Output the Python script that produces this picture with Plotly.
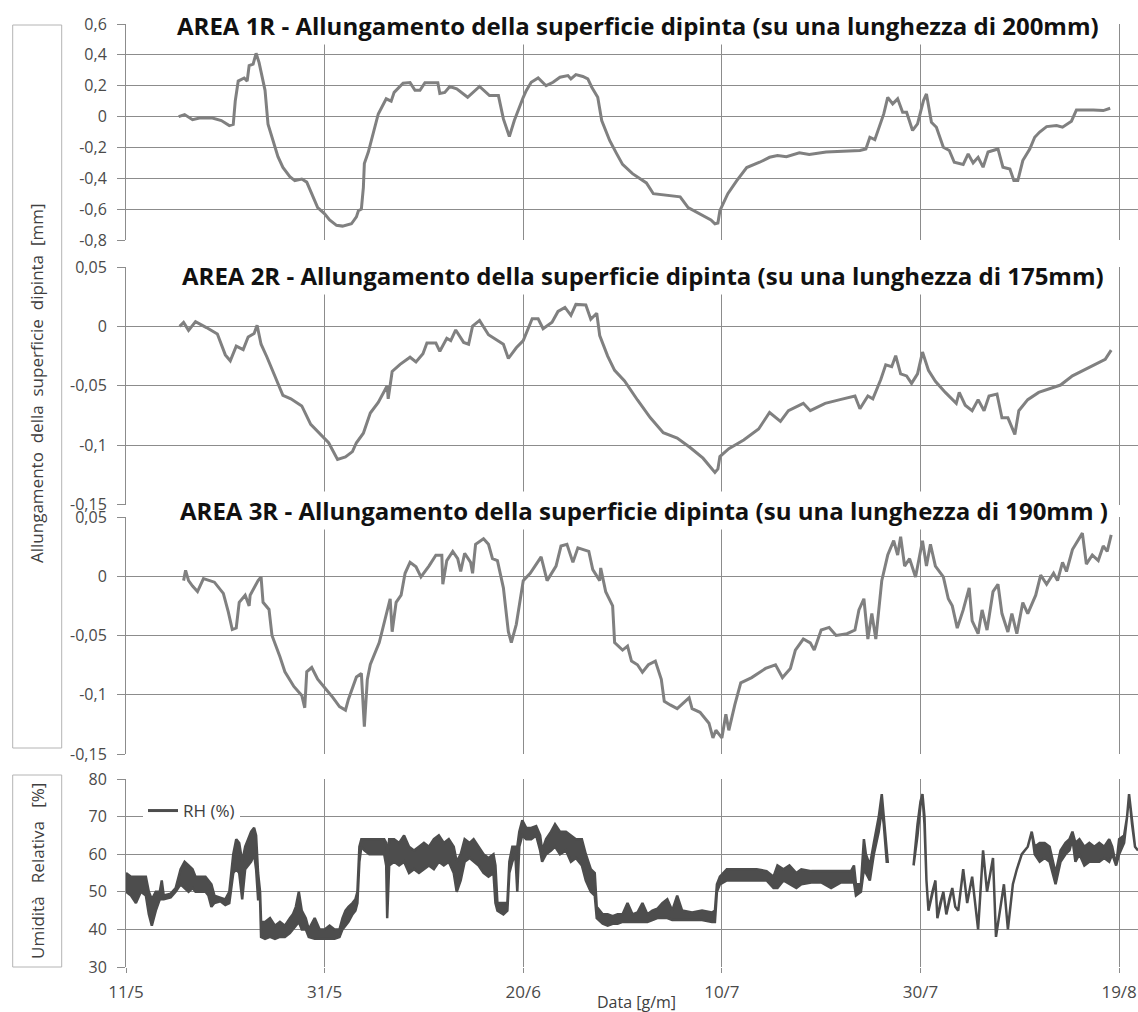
import plotly.graph_objects as go
from plotly.subplots import make_subplots

# ---- time axis: days elapsed since 11/5 ----
tick_days = [0, 20, 40, 60, 80, 100]
tick_labels = ["11/5", "31/5", "20/6", "10/7", "30/7", "19/8"]

# ---- AREA 1R: elongation [mm] ----
a1_day = [5.3, 5.9, 6.7, 7.4, 8.7, 9.6, 10.4, 10.8, 11.0, 11.3, 11.9, 12.2, 12.4, 12.8, 13.1,
          13.4, 13.6, 14.0, 14.3, 14.8, 15.3, 15.8, 16.5, 17.0, 17.7, 18.2, 18.7, 19.3, 20.0,
          20.5, 21.2, 21.8, 22.7, 23.2, 23.4, 23.7, 23.9, 24.0, 24.4, 24.9, 25.4, 26.2, 26.7,
          27.0, 27.9, 28.6, 29.1, 29.6, 30.1, 31.4, 31.6, 32.1, 32.6, 33.3, 34.4, 35.6, 36.6,
          37.5, 38.0, 38.6, 39.1, 40.0, 40.3, 40.8, 41.5, 42.3, 43.0, 43.7, 44.5, 44.8, 45.3,
          46.0, 46.5, 46.9, 47.5, 47.9, 48.7, 49.4, 50.0, 51.0, 52.4, 53.1, 54.4, 55.8, 56.6,
          57.8, 58.9, 59.3, 59.6, 59.8, 60.6, 61.5, 62.5, 63.8, 64.8, 65.6, 66.5, 67.8, 68.8,
          70.5, 72.2, 73.9, 74.5, 74.9, 75.4, 75.9, 76.3, 76.7, 77.2, 77.7, 78.2, 78.6, 79.2,
          79.7, 80.3, 80.6, 81.1, 81.6, 82.3, 82.9, 83.4, 84.3, 84.8, 85.3, 85.8, 86.3, 86.8,
          87.8, 88.3, 89.0, 89.4, 89.8, 90.3, 91.0, 91.5, 92.0, 92.7, 93.7, 94.3, 95.2, 95.7,
          97.4, 98.4, 99.1]
a1_val = [0.0, 0.013, -0.02, -0.01, -0.01, -0.026, -0.058, -0.05, 0.10, 0.23, 0.25, 0.23, 0.33,
          0.34, 0.41, 0.35, 0.29, 0.17, -0.05, -0.155, -0.26, -0.33, -0.39, -0.415, -0.405,
          -0.425, -0.50, -0.59, -0.63, -0.67, -0.705, -0.71, -0.695, -0.65, -0.61, -0.60, -0.46,
          -0.305, -0.23, -0.11, 0.017, 0.115, 0.10, 0.157, 0.216, 0.22, 0.17, 0.17, 0.22, 0.22,
          0.15, 0.157, 0.195, 0.18, 0.125, 0.195, 0.136, 0.136, -0.015, -0.13, -0.026, 0.125,
          0.168, 0.222, 0.25, 0.20, 0.222, 0.255, 0.266, 0.244, 0.272, 0.26, 0.244, 0.19, 0.125,
          -0.026, -0.155, -0.24, -0.31, -0.37, -0.43, -0.50, -0.51, -0.52, -0.59, -0.63, -0.67,
          -0.695, -0.69, -0.61, -0.50, -0.415, -0.33, -0.296, -0.264, -0.253, -0.26, -0.235,
          -0.246, -0.23, -0.225, -0.22, -0.21, -0.134, -0.15, -0.058, 0.017, 0.125, 0.082, 0.115,
          0.028, 0.028, -0.09, -0.047, 0.104, 0.147, -0.037, -0.069, -0.199, -0.22, -0.296,
          -0.31, -0.242, -0.30, -0.264, -0.328, -0.23, -0.21, -0.328, -0.34, -0.415, -0.415,
          -0.285, -0.21, -0.134, -0.10, -0.065, -0.058, -0.069, -0.03, 0.043, 0.043, 0.039,
          0.054]

# ---- AREA 2R: elongation [mm] ----
a2_day = [5.4, 5.8, 6.3, 7.0, 8.1, 9.2, 10.0, 10.5, 11.1, 11.8, 12.3, 12.9, 13.2, 13.6, 14.2,
          14.9, 15.8, 16.6, 17.7, 18.6, 19.5, 20.4, 21.3, 22.1, 22.8, 23.2, 23.9, 24.6, 25.4,
          26.3, 26.4, 26.8, 27.6, 28.6, 29.2, 29.9, 30.3, 31.2, 31.6, 32.3, 32.7, 33.2, 34.0,
          34.5, 34.9, 35.6, 36.5, 37.4, 38.0, 38.5, 39.3, 40.0, 40.9, 41.5, 42.0, 42.9, 43.5,
          44.2, 44.8, 45.3, 46.3, 46.8, 47.4, 47.7, 48.5, 49.2, 50.2, 51.5, 52.8, 54.1, 55.5,
          56.8, 58.1, 59.3, 59.6, 59.8, 60.7, 62.2, 63.7, 64.8, 65.9, 66.7, 68.2, 68.9, 70.4,
          71.9, 73.4, 73.9, 74.7, 75.2, 76.0, 76.5, 77.1, 77.5, 78.0, 78.6, 79.1, 79.7, 80.2,
          80.8, 81.5, 82.5, 83.6, 83.9, 84.5, 85.2, 85.8, 86.4, 86.9, 87.7, 88.2, 88.8, 89.5,
          89.9, 90.8, 91.9, 93.0, 94.1, 95.3, 96.4, 97.5, 98.6, 99.2]
a2_val = [0.0, 0.0034, -0.0034, 0.004, -0.001, -0.0064, -0.024, -0.029, -0.0166, -0.0196,
          -0.009, -0.006, 0.001, -0.015, -0.026, -0.040, -0.058, -0.061, -0.067, -0.0825,
          -0.090, -0.098, -0.112, -0.110, -0.1055, -0.098, -0.090, -0.073, -0.064, -0.050,
          -0.061, -0.038, -0.032, -0.026, -0.030, -0.023, -0.014, -0.014, -0.021, -0.010,
          -0.012, -0.003, -0.0135, -0.015, 0.0003, 0.005, -0.007, -0.012, -0.015, -0.027,
          -0.018, -0.012, 0.0064, 0.0064, -0.002, 0.0034, 0.0126, 0.016, 0.0093, 0.0185, 0.018,
          0.006, 0.011, -0.0077, -0.025, -0.037, -0.046, -0.062, -0.077, -0.0895, -0.094,
          -0.102, -0.111, -0.123, -0.120, -0.1096, -0.103, -0.0957, -0.0864, -0.0725, -0.080,
          -0.071, -0.0648, -0.071, -0.0648, -0.0617, -0.0586, -0.0694, -0.0586, -0.061,
          -0.0448, -0.0324, -0.034, -0.0247, -0.040, -0.0417, -0.048, -0.040, -0.0216, -0.037,
          -0.0463, -0.0556, -0.0648, -0.0556, -0.0664, -0.071, -0.0617, -0.071, -0.0586,
          -0.057, -0.077, -0.077, -0.091, -0.071, -0.0617, -0.0556, -0.0525, -0.0494, -0.0417,
          -0.037, -0.0324, -0.0278, -0.020]

# ---- AREA 3R: elongation [mm] ----
a3_day = [5.8, 6.0, 6.3, 6.7, 7.2, 7.8, 8.9, 9.8, 10.3, 10.7, 11.1, 11.4, 12.0, 12.4, 12.5,
          13.3, 13.6, 13.8, 14.4, 14.7, 15.5, 16.0, 16.9, 17.7, 18.0, 18.2, 18.7, 19.3, 20.2,
          20.8, 21.5, 22.1, 22.4, 23.2, 23.7, 24.0, 24.3, 24.6, 25.5, 26.1, 26.6, 26.8, 27.2,
          27.7, 28.1, 28.6, 29.2, 29.7, 30.5, 31.2, 31.8, 31.9, 32.3, 32.9, 33.4, 33.7, 34.1,
          34.7, 34.9, 35.2, 36.0, 36.5, 36.9, 37.4, 38.0, 38.5, 38.8, 39.3, 40.0, 40.7, 41.8,
          42.4, 43.3, 43.8, 44.4, 45.0, 45.5, 46.6, 47.0, 47.7, 47.8, 48.3, 49.0, 49.2, 50.0,
          50.5, 50.9, 51.5, 52.0, 52.6, 53.3, 53.9, 54.2, 54.8, 55.5, 56.3, 56.7, 57.0, 57.8,
          58.7, 59.1, 59.4, 60.0, 60.4, 60.7, 61.3, 61.9, 63.0, 64.4, 65.4, 66.1, 66.9, 67.4,
          68.2, 68.9, 69.3, 70.0, 70.8, 71.5, 72.6, 73.4, 73.8, 74.3, 74.7, 75.1, 75.5, 76.1,
          76.7, 77.3, 77.7, 78.0, 78.4, 78.9, 79.5, 79.9, 80.2, 80.6, 81.0, 81.5, 82.3, 82.8,
          83.2, 83.7, 84.3, 84.9, 85.2, 85.8, 86.2, 86.7, 87.3, 87.8, 88.2, 88.8, 89.2, 89.7,
          90.3, 90.8, 91.6, 92.1, 92.7, 93.4, 93.8, 94.3, 94.7, 95.3, 96.0, 96.3, 96.7, 97.3,
          97.9, 98.4, 98.8, 99.2]
a3_val = [-0.0037, 0.005, -0.0037, -0.0083, -0.0129, -0.002, -0.005, -0.0145, -0.030, -0.045,
          -0.0437, -0.022, -0.016, -0.025, -0.016, -0.0037, -0.0006, -0.022, -0.028, -0.050,
          -0.068, -0.0806, -0.093, -0.1006, -0.111, -0.0806, -0.077, -0.0868, -0.096, -0.102,
          -0.110, -0.113, -0.1037, -0.085, -0.082, -0.127, -0.087, -0.0745, -0.056, -0.0345,
          -0.019, -0.0468, -0.022, -0.016, 0.0025, 0.0117, 0.008, -0.0006, 0.0086, 0.0178,
          0.0178, -0.0068, 0.0132, 0.021, 0.0148, 0.004, 0.0194, 0.0117, 0.0025, 0.027, 0.0317,
          0.027, 0.0148, 0.0132, -0.0098, -0.0468, -0.056, -0.0406, -0.0037, 0.0025, 0.0163,
          -0.0037, 0.0086, 0.0255, 0.027, 0.0117, 0.024, 0.021, 0.0056, -0.0037, 0.007, -0.013,
          -0.025, -0.056, -0.0623, -0.059, -0.0716, -0.0747, -0.081, -0.0747, -0.0716, -0.087,
          -0.1056, -0.1086, -0.1117, -0.1056, -0.1025, -0.1117, -0.1148, -0.124, -0.1364,
          -0.130, -0.1364, -0.1164, -0.130, -0.1086, -0.090, -0.0855, -0.0778, -0.0747,
          -0.0855, -0.0778, -0.0623, -0.053, -0.0562, -0.0623, -0.0454, -0.0432, -0.050,
          -0.0485, -0.0454, -0.0284, -0.019, -0.053, -0.0315, -0.053, -0.0037, 0.0179, 0.030,
          0.0179, 0.0333, 0.0086, 0.0148, -0.0006, 0.0164, 0.030, 0.0086, 0.027, 0.0086,
          -0.0006, -0.019, -0.025, -0.0438, -0.0284, -0.0099, -0.0377, -0.0485, -0.0284,
          -0.0454, -0.013, -0.0068, -0.0315, -0.047, -0.0315, -0.0485, -0.0222, -0.0315,
          -0.016, 0.0009, -0.0068, 0.0025, -0.0037, 0.0117, 0.004, 0.0225, 0.0318, 0.0364,
          0.0102, 0.0179, 0.0133, 0.0256, 0.021, 0.0349]

# ---- Relative humidity RH (%): low / high envelope of the readings ----
rh_day = [0.0, 0.5, 1.0, 1.5, 2.0, 2.3, 2.6, 3.0, 3.4, 3.6, 3.8, 4.5, 5.0, 5.5, 5.9, 6.3, 6.7,
          7.0, 7.5, 8.0, 8.3, 8.6, 8.9, 9.5, 10.0, 10.4, 10.8, 11.1, 11.4, 11.7, 12.0, 12.3,
          12.6, 12.9, 13.1, 13.3, 13.5, 13.6, 14.0, 14.5, 15.0, 15.5, 16.0, 16.5, 16.8, 17.1,
          17.4, 17.7, 18.1, 18.4, 19.0, 19.5, 20.0, 20.5, 21.0, 21.5, 21.8, 22.1, 22.4, 22.8,
          23.1, 23.3, 23.5, 23.7, 24.0, 24.5, 25.0, 25.5, 26.0, 26.2, 26.3, 26.5, 27.0, 27.5,
          28.0, 28.5, 29.0, 29.5, 30.0, 30.5, 31.0, 31.5, 32.0, 32.5, 33.0, 33.3, 33.7, 34.1,
          34.6, 35.0, 35.5, 36.0, 36.5, 37.0, 37.2, 37.4, 38.0, 38.4, 38.6, 38.9, 39.2, 39.4,
          39.6, 39.9, 40.3, 40.8, 41.3, 41.7, 41.9, 42.3, 42.8, 43.2, 43.7, 44.3, 44.8, 45.3,
          45.9, 46.3, 46.8, 47.2, 47.4, 48.0, 48.5, 49.0, 49.5, 50.0, 50.5, 51.0, 51.5, 52.0,
          52.5, 53.0, 53.5, 54.0, 54.5, 55.0, 55.5, 56.0, 57.0, 58.0, 59.0, 59.3, 59.5, 59.8,
          60.5, 61.5, 62.5, 63.5, 64.5, 65.2, 65.6, 66.2, 66.8, 67.5, 68.0, 69.0, 70.0, 71.0,
          72.0, 73.0, 73.3, 73.5, 74.0, 74.3, 74.5, 74.9, 75.3, 75.8, 76.1, 76.3, 76.6, 76.7,
          None,
          79.3, 79.7, 80.0, 80.2, 80.4, 80.6, 80.8, 81.2, 81.5, 81.7, 82.0, 82.3, 82.6, 82.9,
          83.2, 83.5, 83.8, 84.3, 84.7, 85.2, 85.8, 86.3, 86.7, 87.3, 87.6, 88.0, 88.4, 88.8,
          89.3, 89.7, 90.2, 90.8, 91.2, 91.5, 92.0, 92.5, 93.0, 93.6, 94.1, 94.6, 95.0, 95.3,
          95.6, 96.0, 96.5, 97.0, 97.5, 98.0, 98.5, 99.0, 99.3, 99.7, 100.0, 100.5, 100.8,
          101.0, 101.3, 101.6, 101.9]
rh_low = [50, 49, 47, 50, 49, 44, 41, 45, 48, 48, 48, 48.5, 50, 52, 51, 50, 51, 50, 50, 50, 49,
          46, 47, 47.5, 46.5, 47, 55, 56, 55, 48, 56, 57, 58, 60, 56, 48, 48, 38, 37.5, 38, 37.5,
          38, 38, 39, 40, 41, 42, 40, 40, 38, 37.5, 37.5, 37.5, 37.5, 37.5, 38, 40, 41, 42, 44,
          45, 47, 58, 62, 61, 60, 60, 60, 60, 57, 43, 57, 58, 57, 58, 55, 56, 55, 56, 57, 56, 58,
          57, 58, 55, 50, 53, 58, 59, 58, 57, 55, 54, 55, 47, 45, 44, 45, 55, 58, 60, 50, 62, 65,
          64, 64, 65, 61, 58, 60, 61, 62, 60, 61, 58, 59, 57, 53, 50, 49, 43, 41.5, 41, 41.5,
          41.5, 42, 42, 42, 42, 42, 42, 42.5, 43, 43, 43, 42.5, 42.5, 42.5, 42.5, 42.5, 42, 42,
          50, 52, 53, 53, 53, 53, 53, 51, 51, 53, 52, 51, 52, 52.5, 52.5, 51, 52.5, 52.5, 52.5,
          49, 50, 56, 55, 53, 60, 66, 72, 68, 58, 58,
          None,
          57, 65, 73, 75.5, 68, 53, 45, 50, 53, 43, 47, 50, 44, 48, 51, 46, 45, 56, 47, 54, 40,
          61, 50, 59, 38, 45, 52, 40, 52, 56, 60, 62, 66, 60, 58, 59, 58, 52, 58, 60, 61, 64, 58,
          60, 57, 58, 58, 58, 59, 58, 60, 57, 60, 63, 70, 76, 68, 62, 61]
rh_high = [55, 54, 54, 54, 54, 50, 48, 50, 50, 53, 49, 49.5, 51, 56, 58, 57, 56, 54, 54, 54, 53,
           52, 49, 48.5, 48, 50, 60, 64, 63, 58, 62, 64, 66, 67, 65, 55, 50, 42, 42, 43, 41, 42,
           41, 43, 44, 46, 50, 45, 43, 40, 43, 40, 40, 41, 40, 40, 43, 45, 46, 47, 48, 50, 62,
           64, 64, 64, 64, 64, 64, 63, 57, 64, 64, 63, 65, 62, 61, 62, 63, 62, 64, 65, 63, 64,
           62, 58, 60, 64, 63, 64, 62, 60, 59, 60, 57, 47, 47, 47, 58, 62, 62, 62, 66, 69, 67,
           67, 67.5, 65, 61, 64, 66, 68, 66, 66, 65, 64, 64, 60, 56, 55, 46, 44, 44, 43.5, 44,
           44, 47, 44, 44.5, 47, 44, 45, 45.5, 47, 48, 45, 49, 45, 44.5, 45, 44.5, 45, 52, 54,
           56, 56, 56, 56, 55.5, 54, 57, 56, 57, 55, 56, 55.5, 55.5, 55.5, 55.5, 55.5, 57, 52,
           52, 64, 60, 57, 63, 70, 76, 70, 62, 58,
           None,
           57, 68, 74, 76, 70, 53, 45, 50, 53, 43, 47, 50, 44, 48, 51, 46, 45, 56, 47, 54, 40,
           61, 50, 59, 38, 45, 52, 40, 52, 56, 60, 62, 66, 62, 63, 63, 62, 55, 61, 63, 64, 66,
           63, 64, 62, 63, 62, 63, 62, 64, 62, 57, 64, 65, 70, 76, 68, 62, 61]

PANEL1_TITLE = "AREA 1R - Allungamento della superficie dipinta (su una lunghezza di 200mm)"
PANEL2_TITLE = "AREA 2R - Allungamento della superficie dipinta (su una lunghezza di 175mm)"
PANEL3_TITLE = "AREA 3R - Allungamento della superficie dipinta (su una lunghezza di 190mm )"

W, H = 1138, 1012
LEFT = 126                      # left edge of plotting area (px)
PLOT_W = W - LEFT
X_END = 101.9                   # right end of the time axis (days)

FONT = "Open Sans"
TICK_COL = "#4a4a4a"
GRID_COL = "#8c8c8c"
LINE_COL = "#808080"
RH_COL = "#4d4d4d"
NB = "\u00a0"


def py(p):
    """pixel row -> paper y"""
    return 1 - p / H


def px(p):
    """pixel column -> paper x"""
    return (p - LEFT) / PLOT_W


fig = make_subplots(rows=4, cols=1, shared_xaxes=True)

# panels: (pixel top, pixel bottom, y range, tick values, tick labels)
panels = [
    (24, 240, [-0.8, 0.6], [0.6, 0.4, 0.2, 0, -0.2, -0.4, -0.6, -0.8],
     ["0,6", "0,4", "0,2", "0", "-0,2", "-0,4", "-0,6", "-0,8"]),
    (267, 504.5, [-0.15, 0.05], [0.05, 0, -0.05, -0.1, -0.15],
     ["0,05", "0", "-0,05", "-0,1", "-0,15"]),
    (517, 754, [-0.15, 0.05], [0.05, 0, -0.05, -0.1, -0.15],
     ["0,05", "0", "-0,05", "-0,1", "-0,15"]),
    (779, 967, [30, 80], [80, 70, 60, 50, 40, 30],
     ["80", "70", "60", "50", "40", "30"]),
]

for i, (top, bot, yr, tv, tt) in enumerate(panels, start=1):
    fig.update_yaxes(row=i, col=1, domain=[py(bot), py(top)], range=yr,
                     tickvals=tv, ticktext=tt, showgrid=True, gridcolor=GRID_COL,
                     gridwidth=1, zeroline=False, showline=True, linecolor=GRID_COL,
                     linewidth=1, ticks="outside", ticklen=8, tickcolor=GRID_COL,
                     ticklabelstandoff=7,
                     tickfont=dict(family=FONT, size=16, color=TICK_COL),
                     automargin=False, fixedrange=True)
    fig.update_xaxes(row=i, col=1, range=[0, X_END], tickvals=tick_days,
                     ticktext=tick_labels, showgrid=True, gridcolor=GRID_COL,
                     gridwidth=1, zeroline=False, showline=False,
                     showticklabels=(i == 4), ticks=("outside" if i == 4 else ""),
                     ticklen=5, tickcolor=GRID_COL, ticklabelstandoff=5,
                     tickfont=dict(family=FONT, size=17, color=TICK_COL),
                     automargin=False, fixedrange=True)

# elongation series
for i, (d, v) in enumerate([(a1_day, a1_val), (a2_day, a2_val), (a3_day, a3_val)], start=1):
    fig.add_trace(go.Scatter(x=d, y=v, mode="lines", showlegend=False,
                             line=dict(color=LINE_COL, width=3)), row=i, col=1)

# relative humidity: the dense readings drawn as a filled low/high band, split at the data gap
segments, cur = [], []
for d, lo, hi in zip(rh_day, rh_low, rh_high):
    if d is None:
        segments.append(cur)
        cur = []
    else:
        cur.append((d, lo, hi))
segments.append(cur)
for seg in segments:
    ds = [s[0] for s in seg]
    los = [s[1] for s in seg]
    his = [s[2] for s in seg]
    fig.add_trace(go.Scatter(x=ds + ds[::-1], y=his + los[::-1], mode="lines",
                             fill="toself", fillcolor=RH_COL, showlegend=False,
                             line=dict(color=RH_COL, width=2.5)), row=4, col=1)
# legend entry for the humidity series
fig.add_trace(go.Scatter(x=[None], y=[None], mode="lines", name="RH (%)",
                         line=dict(color=RH_COL, width=3)), row=4, col=1)

annotations = []
for title, cx, cy in [(PANEL1_TITLE, 638, 26), (PANEL2_TITLE, 643, 275),
                      (PANEL3_TITLE, 644, 511)]:
    annotations.append(dict(text="<b>" + title + "</b>", x=px(cx), y=py(cy),
                            xref="paper", yref="paper", xanchor="center",
                            yanchor="middle", showarrow=False, bgcolor="white",
                            borderpad=2,
                            font=dict(family=FONT, size=24, color="#111111")))

annotations.append(dict(text=(NB + " ").join(["Allungamento", "della", "superficie",
                                              "dipinta", "[mm]"]),
                        x=px(37), y=py(383), xref="paper", yref="paper",
                        xanchor="center", yanchor="middle", textangle=-90,
                        showarrow=False,
                        font=dict(family=FONT, size=17, color="#404040")))
annotations.append(dict(text=(NB + NB + " ").join(["Umidità", "Relativa", "[%]"]),
                        x=px(37), y=py(871), xref="paper", yref="paper",
                        xanchor="center", yanchor="middle", textangle=-90,
                        showarrow=False,
                        font=dict(family=FONT, size=17, color="#404040")))
annotations.append(dict(text="Data [g/m]", x=px(636), y=py(1002), xref="paper",
                        yref="paper", xanchor="center", yanchor="middle",
                        showarrow=False,
                        font=dict(family=FONT, size=16, color="#404040")))

shapes = [
    dict(type="rect", xref="paper", yref="paper", x0=px(12.7), x1=px(61.7),
         y0=py(748), y1=py(25), line=dict(color="#b4b4b4", width=1)),
    dict(type="rect", xref="paper", yref="paper", x0=px(12.7), x1=px(61.7),
         y0=py(967), y1=py(775), line=dict(color="#b4b4b4", width=1)),
]

fig.update_layout(
    width=W, height=H,
    margin=dict(l=LEFT, r=0, t=0, b=0),
    paper_bgcolor="white", plot_bgcolor="white",
    annotations=annotations, shapes=shapes,
    showlegend=True,
    legend=dict(x=px(143), y=py(793), xanchor="left", yanchor="top",
                bgcolor="white", borderwidth=0, itemwidth=30,
                font=dict(family=FONT, size=17, color="#404040"),
                tracegroupgap=0),
)

fig.write_html("out.html")
